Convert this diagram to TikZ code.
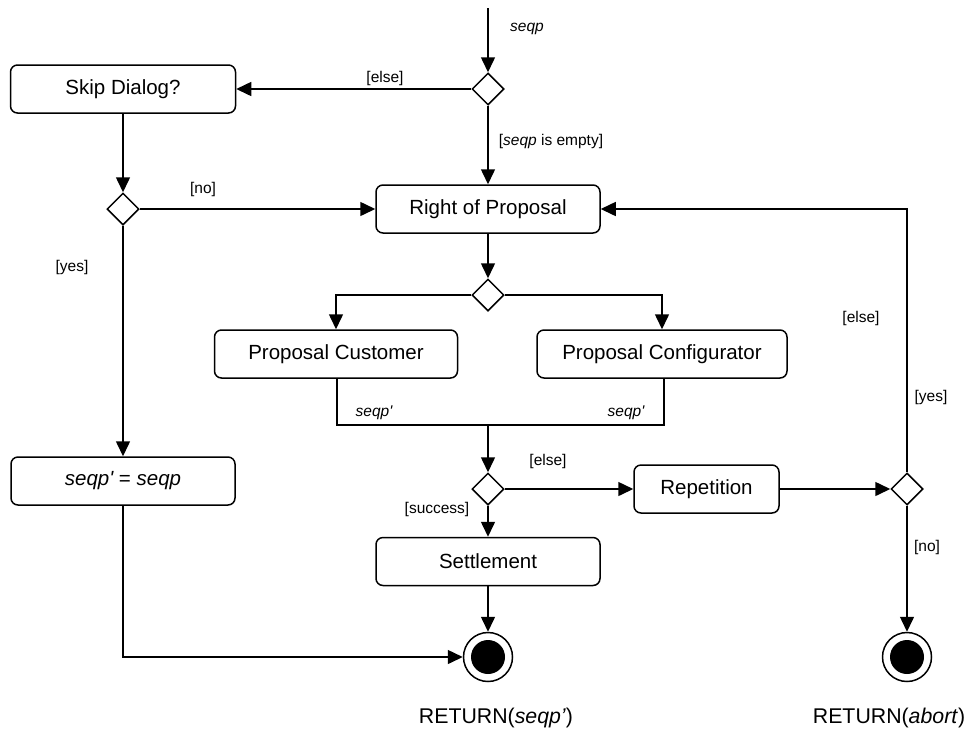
\documentclass[tikz,border=0pt]{standalone}
\usepackage{fontspec}
\setmainfont{Liberation Sans}
\usetikzlibrary{arrows.meta,shapes.geometric}
\begin{document}
\begin{tikzpicture}[x=1pt,y=-1pt,
  line width=1.5pt,
  action/.style={draw,rounded corners=7pt,minimum height=48pt,inner sep=0pt,font=\fontsize{20.5}{24}\selectfont},
  decision/.style={draw,diamond,minimum size=32pt,inner sep=0pt},
  finalring/.style={draw,circle,minimum size=49pt,inner sep=0pt},
  finaldot/.style={fill,circle,minimum size=34pt,inner sep=0pt},
  guard/.style={font=\fontsize{15.5}{18}\selectfont,inner sep=0pt},
  retlabel/.style={font=\fontsize{21.3}{25}\selectfont,inner sep=0pt},
  flow/.style={-{Triangle[length=15pt,width=14pt]}}]
\useasboundingbox (0,0) rectangle (966,732);

% actions
\node[action,minimum width=225pt] (skip) at (123,89) {Skip Dialog?};
\node[action,minimum width=224pt] (rop) at (488,209) {Right of Proposal};
\node[action,minimum width=243pt] (pcust) at (336,354) {Proposal Customer};
\node[action,minimum width=250pt] (pconf) at (662,354) {Proposal Configurator};
\node[action,minimum width=224pt] (same) at (123,481) {\itshape seqp\textquotesingle\ \upshape=\ \itshape seqp};
\node[action,minimum width=145pt] (rep) at (706.5,489) {Repetition};
\node[action,minimum width=224pt] (settle) at (488,561.5) {Settlement};

% decisions
\node[decision] (d1) at (488,89) {};
\node[decision] (d2) at (123,209) {};
\node[decision] (d3) at (488,295) {};
\node[decision] (d4) at (488,489) {};
\node[decision] (d5) at (907,489) {};

% final nodes
\node[finalring] (f1) at (488,657) {};
\node[finaldot] (f1dot) at (f1) {};
\node[finalring] (f2) at (907,657) {};
\node[finaldot] (f2dot) at (f2) {};

% helper points
\coordinate (start) at (488,8);
\coordinate (jl) at (337,425);
\coordinate (jr) at (664,425);
\coordinate (jm) at (488,425);
\coordinate (back) at (907,209);
\coordinate (corner) at (123,657);

% flows
\draw[flow] (start) -- (d1.north);
\draw[flow] (d1.west) -- (skip.east);
\draw[flow] (d1.south) -- (rop.north);
\draw[flow] (skip.south) -- (d2.north);
\draw[flow] (d2.east) -- (rop.west);
\draw[flow] (d2.south) -- (same.north);
\draw[flow] (same.south) -- (corner) -- (f1.west);
\draw[flow] (rop.south) -- (d3.north);
\draw[flow] (d3.west) -| (pcust.north);
\draw[flow] (d3.east) -| (pconf.north);
\draw (pcust.south -| jl) -- (jl) -- (jr) -- (pconf.south -| jr);
\draw[flow] (jm) -- (d4.north);
\draw[flow] (d4.east) -- (rep.west);
\draw[flow] (d4.south) -- (settle.north);
\draw[flow] (settle.south) -- (f1.north);
\draw[flow] (rep.east) -- (d5.west);
\draw[flow] (d5.north) -- (back) -- (rop.east);
\draw[flow] (d5.south) -- (f2.north);

% guards and labels
\node[guard] (lseqp) at (527,29) {\itshape seqp};
\node[guard] (lelse1) at (385,78) {[else]};
\node[guard] (lempty) at (551,141) {[\textit{seqp} is empty]};
\node[guard] (lno1) at (203,189) {[no]};
\node[guard] (lyes1) at (72,267) {[yes]};
\node[guard] (lelse2) at (861,318) {[else]};
\node[guard] (lyes2) at (931,397) {[yes]};
\node[guard] (lp1) at (374,413) {\itshape seqp\textquotesingle};
\node[guard] (lp2) at (626,413) {\itshape seqp\textquotesingle};
\node[guard] (lelse3) at (548,461) {[else]};
\node[guard] (lsucc) at (437,509) {[success]};
\node[guard] (lno2) at (927,547) {[no]};
\node[retlabel] (r1) at (496,718) {RETURN(\textit{seqp’})};
\node[retlabel] (r2) at (889,718) {RETURN(\textit{abort})};
\end{tikzpicture}
\end{document}
